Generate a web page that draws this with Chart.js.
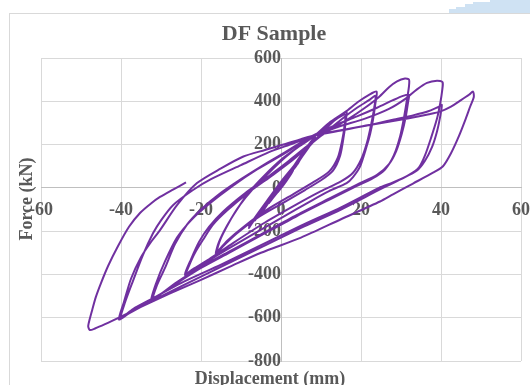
<!DOCTYPE html>
<html lang="en">
<head>
  <meta charset="UTF-8" />
  <title>DF Sample</title>
  <script src="https://cdn.jsdelivr.net/npm/chart.js"></script>
  <style>
    body { margin: 0; background: #fff; }
    #wrap { position: relative; width: 530px; height: 385px; overflow: hidden; }
    #frame {
      position: absolute; left: 9px; top: 13px; width: 540px; height: 400px;
      border: 1px solid #d9d9d9; box-sizing: border-box;
    }
    .blue { position: absolute; background: #cfe2f3; }
    #chart-box { position: absolute; left: 0; top: 0; width: 530px; height: 385px; }
  </style>
</head>
<body>

<div id="wrap">
  <div class="blue" style="left:449px; top:9px; width:90px; height:4px;"></div>
  <div class="blue" style="left:456px; top:7px; width:90px; height:6px;"></div>
  <div class="blue" style="left:465px; top:4px; width:90px; height:9px;"></div>
  <div class="blue" style="left:473px; top:2px; width:90px; height:11px;"></div>
  <div class="blue" style="left:490px; top:0px; width:60px; height:13px;"></div>
  <div id="frame"></div>
  <div id="chart-box"><canvas id="chart"></canvas></div>
</div>

<script>
  // labels
  const titleText = 'DF Sample';
  const xTitle = 'Displacement (mm)';
  const yTitle = 'Force (kN)';

  // small cycles (up to about +/-8 mm)
  const dispSmall = [0, 1.5, 3, 2.2, 0.5, -1.5, -3, -2.2, -0.5,
    2, 4, 5, 4.2, 2, -1, -3.5, -5, -4.2, -2,
    1, 4, 6.5, 5.8, 3.5, 0, -3.5, -6.5, -5.8, -3,
    1, 5, 8, 7.2, 4.5, 1, -3, -7.5, -8, -6.8, -3.5,
    0, 4, 8.5, 7.5, 4.5, 0.5, -3.5, -8, -7, -3.5];
  const forceSmall = [0, 40, 80, 55, 10, -35, -70, -48, -5,
    55, 110, 140, 112, 60, -15, -75, -120, -98, -40,
    35, 110, 185, 160, 100, 15, -70, -150, -128, -55,
    40, 150, 225, 195, 125, 40, -55, -170, -185, -150, -70,
    20, 120, 235, 205, 130, 40, -60, -175, -150, -65];

  // +/-16 mm
  const disp16 = [0, 4, 7, 10, 13, 15.5, 16.4,
    16.2, 15.7, 14.8, 13, 10, 6, 0, -6, -11, -14.5, -16.3,
    -15.5, -13.5, -11, -8, -4, 0, 4, 7.5, 11, 14, 16,
    15.9, 15.3, 14.2, 12, 8, 3, -3, -9, -13.5, -16,
    -15.2, -13, -10.5, -7, -3, 1, 5, 8];
  const force16 = [15, 110, 190, 250, 305, 340, 352,
    310, 240, 150, 80, 35, -10, -75, -140, -210, -270, -305,
    -250, -175, -100, -20, 60, 130, 185, 228, 280, 320, 338,
    290, 220, 140, 75, 25, -30, -95, -175, -245, -295,
    -240, -160, -85, -5, 70, 140, 200, 235];

  // +/-24 mm
  const disp24 = [12, 16, 19.5, 22, 23.9,
    23.6, 23, 22.3, 21.4, 19.75, 18, 16.4, 12, 8, 0, -8, -14, -19, -22, -24,
    -23, -21.5, -19.5, -17, -13.5, -8, -2, 3, 7, 11, 15, 19, 22, 23.6,
    23.3, 22.5, 21.5, 20, 18, 15, 10, 4, -4, -12, -18, -22, -24,
    -22.5, -20.5, -18, -14.5, -9, -3, 2, 7];
  const force24 = [300, 350, 400, 430, 445,
    390, 314, 250, 191, 98, 50, 22, -15, -55, -140, -225, -290, -345, -380, -410,
    -360, -300, -240, -170, -105, -20, 60, 130, 195, 255, 315, 370, 405, 425,
    370, 290, 210, 130, 70, 30, -15, -75, -160, -255, -330, -375, -400,
    -330, -250, -180, -110, -25, 55, 125, 200];

  // +/-32 mm
  const disp32 = [12, 17, 21, 24.5, 27, 29, 31, 32,
    32, 31.6, 30.8, 29.8, 28.2, 26, 23, 18, 12, 4, -5, -13, -20, -26, -30, -32,
    -31, -29, -26.5, -23.5, -20, -15.5, -10, -4, 2, 7,
    13, 19, 24, 28, 30.5, 32,
    31.8, 31.2, 30.2, 28.8, 27, 24, 19, 12, 4, -5, -13, -20, -26, -30, -32.5,
    -31.2, -29, -26, -22.5, -18, -12, -6, 1, 7];
  const force32 = [265, 320, 370, 420, 465, 492, 505, 500,
    470, 420, 330, 240, 150, 85, 45, 0, -55, -130, -220, -300, -370, -440, -490, -515,
    -450, -370, -260, -170, -100, -30, 40, 110, 175, 232,
    285, 330, 370, 405, 425, 430,
    400, 330, 250, 170, 110, 60, 15, -50, -125, -215, -295, -365, -435, -490, -525,
    -440, -340, -230, -150, -75, 10, 85, 160, 230];

  // +/-40 mm
  const disp40 = [14, 21, 27, 31, 34, 36.5, 39, 40.4,
    40.3, 39.8, 39, 37.5, 36, 34.5, 32, 28, 24.5, 15, 5, -5, -15, -25, -32, -37, -40,
    -39, -37, -34.5, -32, -30, -27, -22, -17.5, -10, -3, 3, 8,
    15, 22, 28, 33, 37, 39.5, 40.2,
    39.8, 39, 37.8, 36, 34, 30, 25, 15, 5, -5, -15, -25, -33, -38, -40.5,
    -39.3, -37.5, -35, -32.5, -30.2, -26, -21, -15, -9.4, -4, 0.6, 5, 8.9];
  const force40 = [280, 320, 365, 410, 455, 485, 495, 488,
    450, 390, 320, 230, 150, 95, 60, 25, 0, -90, -175, -265, -355, -440, -510, -560, -600,
    -530, -430, -310, -210, -150, -80, -10, 40, 105, 165, 205, 240,
    265, 290, 315, 335, 355, 375, 383,
    330, 260, 190, 125, 80, 40, -5, -100, -185, -275, -365, -455, -530, -580, -608,
    -530, -420, -320, -250, -194, -80, 22, 90, 145, 175, 200, 225, 245];

  // +/-48 mm and last reload
  const disp48 = [16, 24.75, 32, 37, 39.75, 42.5, 45, 47, 48,
    48.2, 47.3, 46.2, 44.5, 42.5, 40.5, 38, 33, 28, 24.75,
    15, 5, -5, -12.75, -20, -28, -35, -40, -44, -46.5, -47.8,
    -48.2, -47.8, -47.2, -46.3, -45, -43.2, -40.8, -38, -35.25, -32.5, -30.25, -27, -23.75];
  const force48 = [270, 299, 322, 340, 352, 375, 405, 430, 445,
    420, 376, 320, 240, 160, 100, 70, 20, -30, -63,
    -145, -230, -300, -364, -425, -490, -550, -595, -630, -650, -657,
    -640, -605, -564, -505, -440, -360, -271, -180, -116, -72, -42, -8, 25];

  const xTicksStep = 20;
  const yTicksStep = 200;

  const dispAll = [].concat(dispSmall, disp16, disp24, disp32, disp40, disp48);
  const forceAll = [].concat(forceSmall, force16, force24, force32, force40, force48);
  const points = dispAll.map((x, i) => ({ x: x, y: forceAll[i] }));

  const tickFont = { family: '"Liberation Serif", "Times New Roman", serif', size: 18, weight: 'bold' };

  const chartText = {
    id: 'chartText',
    afterDraw(chart) {
      const ctx = chart.ctx;
      ctx.save();
      ctx.fillStyle = '#595959';
      ctx.textAlign = 'center';
      ctx.textBaseline = 'alphabetic';
      ctx.font = 'bold 22px "Liberation Serif"';
      ctx.fillText(titleText, 274, 40);
      ctx.font = 'bold 18px "Liberation Serif"';
      ctx.fillText(xTitle, 270, 384);
      ctx.translate(32, 199);
      ctx.rotate(-Math.PI / 2);
      ctx.fillText(yTitle, 0, 0);
      ctx.restore();
    }
  };

  new Chart(document.getElementById('chart'), {
    type: 'scatter',
    data: {
      datasets: [{
        data: points,
        showLine: true,
        borderColor: '#7030a0',
        borderWidth: 2,
        pointRadius: 0,
        tension: 0.25,
        fill: false
      }]
    },
    options: {
      responsive: true,
      maintainAspectRatio: false,
      animation: false,
      layout: { padding: { left: 41, top: 58, right: 9, bottom: 24 } },
      plugins: { legend: { display: false }, tooltip: { enabled: false } },
      scales: {
        x: {
          type: 'linear',
          min: -60, max: 60,
          position: { y: 0 },
          ticks: { stepSize: xTicksStep, font: tickFont, color: '#595959', padding: 0, maxRotation: 0, autoSkip: false },
          grid: { color: '#d9d9d9', drawTicks: true, tickLength: 12, tickColor: 'rgba(0,0,0,0)' },
          border: { color: '#bfbfbf' }
        },
        y: {
          type: 'linear',
          min: -800, max: 600,
          position: { x: 0 },
          ticks: { stepSize: yTicksStep, font: tickFont, color: '#595959', padding: 0 },
          grid: { color: '#d9d9d9', drawTicks: true, tickLength: 16, tickColor: 'rgba(0,0,0,0)' },
          border: { color: '#bfbfbf' }
        }
      }
    },
    plugins: [chartText]
  });
</script>

</body>
</html>
